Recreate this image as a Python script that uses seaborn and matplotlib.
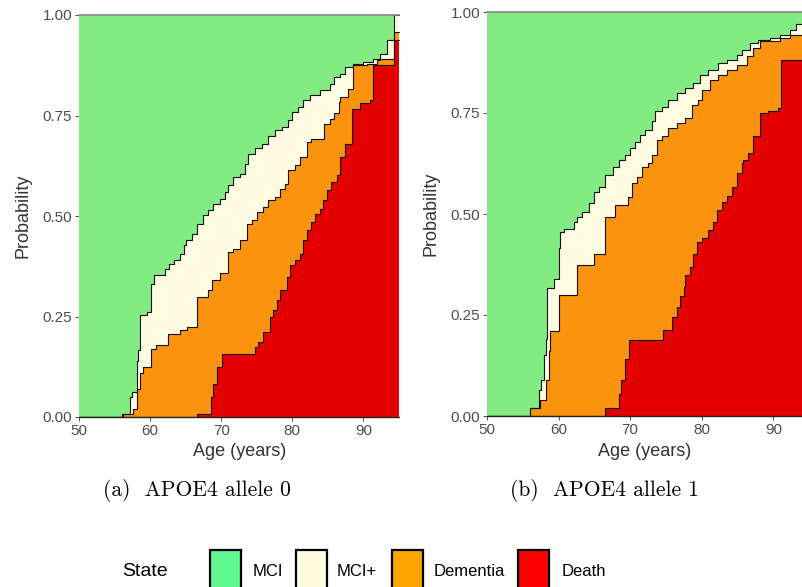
import numpy as np
import matplotlib
matplotlib.use("Agg")
import matplotlib.pyplot as plt
from matplotlib.patches import Rectangle
import seaborn as sns
import pandas as pd

sns.set_theme(style="white")
plt.rcParams['font.family'] = ['Liberation Sans', 'DejaVu Sans']

# state colours (plot fills / legend keys)
fill_colors = {'MCI': '#82EB82', 'MCI+': '#FFFDE1', 'Dementia': '#FB930F', 'Death': '#E40000'}
key_colors = {'MCI': '#5EF78F', 'MCI+': '#FFFDE0', 'Dementia': '#FFA500', 'Death': '#FF0000'}
states = ['MCI', 'MCI+', 'Dementia', 'Death']

# ---- APOE4 allele 0 : cumulative boundaries (step, post) ----
# top of Death
a0_death_age = [66.55, 68.5, 68.9, 69.4, 70.1, 74.75, 75.2, 75.9, 76.9, 77.3, 77.8, 78.3, 79.2, 79.7,
                80.4, 81.1, 81.55, 82.0, 82.7, 83.2, 83.9, 84.3, 84.85, 85.5, 86.25, 86.7, 87.4, 88.35,
                89.5, 90.9, 91.4, 94.35]
a0_death_p = [0.008, 0.05, 0.083, 0.124, 0.156, 0.174, 0.186, 0.211, 0.249, 0.265, 0.29, 0.315, 0.348, 0.377,
              0.39, 0.406, 0.44, 0.464, 0.485, 0.506, 0.518, 0.539, 0.564, 0.585, 0.601, 0.647, 0.68, 0.767,
              0.78, 0.788, 0.875, 0.938]
# top of Dementia
a0_dem_age = [56.15, 57.55, 58.1, 58.6, 59.05, 60.1, 60.9, 62.55, 64.2, 65.15, 66.6, 68.2, 68.65, 69.8,
              71.0, 71.7, 72.65, 73.6, 74.3, 75.0, 75.95, 76.6, 77.55, 78.3, 79.0, 79.4, 80.4, 81.1,
              82.0, 82.7, 84.4, 85.3, 85.8, 86.5, 86.7, 87.9, 88.6, 90.45, 91.9, 92.3, 94.35]
a0_dem_p = [0.008, 0.02, 0.07, 0.11, 0.124, 0.17, 0.178, 0.207, 0.216, 0.224, 0.299, 0.315, 0.34, 0.357,
            0.41, 0.419, 0.44, 0.481, 0.489, 0.51, 0.522, 0.539, 0.547, 0.568, 0.58, 0.614, 0.626, 0.647,
            0.684, 0.692, 0.73, 0.742, 0.755, 0.784, 0.796, 0.817, 0.875, 0.879, 0.887, 0.891, 0.958]
# top of MCI+
a0_mcip_age = [56.0, 57.17, 57.5, 58.1, 58.35, 58.6, 59.5, 60.1, 60.55, 62.1, 62.6, 63.3, 64.2, 64.7,
               65.1, 65.85, 66.55, 67.5, 68.2, 68.9, 69.8, 70.5, 71.0, 71.7, 72.65, 73.35, 73.8, 74.75,
               75.7, 76.6, 77.6, 78.5, 79.4, 79.9, 80.85, 81.55, 82.5, 83.9, 85.3, 85.8, 86.7, 87.4,
               88.6, 90.0, 91.4, 92.3, 93.3, 94.35]
a0_mcip_p = [0.008, 0.05, 0.062, 0.14, 0.166, 0.253, 0.26, 0.33, 0.352, 0.369, 0.381, 0.39, 0.406, 0.427,
             0.44, 0.456, 0.481, 0.502, 0.514, 0.531, 0.543, 0.56, 0.576, 0.597, 0.605, 0.63, 0.655, 0.668,
             0.68, 0.70, 0.713, 0.721, 0.738, 0.759, 0.771, 0.788, 0.80, 0.813, 0.829, 0.846, 0.854, 0.871,
             0.879, 0.883, 0.891, 0.904, 0.937, 1.0]

# ---- APOE4 allele 1 ----
a1_death_age = [66.5, 68.37, 68.7, 69.3, 69.9, 74.65, 75.8, 76.5, 77.0, 77.45, 77.7, 78.4, 78.8, 79.3,
                80.0, 80.9, 81.6, 82.1, 82.8, 83.5, 84.2, 84.9, 85.6, 85.8, 86.5, 87.2, 88.15, 89.3,
                90.7, 91.0]
a1_death_p = [0.02, 0.055, 0.09, 0.142, 0.188, 0.212, 0.245, 0.27, 0.297, 0.32, 0.35, 0.37, 0.40, 0.43,
              0.44, 0.46, 0.481, 0.51, 0.53, 0.545, 0.568, 0.601, 0.626, 0.634, 0.65, 0.692, 0.75, 0.754,
              0.762, 0.882]
a1_dem_age = [56.04, 57.44, 58.23, 58.6, 58.83, 60.0, 62.55, 64.9, 66.5, 67.9, 69.75, 70.2, 70.9, 71.6,
              72.55, 73.0, 73.7, 74.4, 75.35, 76.5, 77.7, 78.6, 79.5, 80.0, 81.15, 82.3, 83.5, 84.9,
              86.3, 87.2, 88.15, 90.9, 92.3]
a1_dem_p = [0.02, 0.039, 0.09, 0.16, 0.21, 0.30, 0.375, 0.40, 0.493, 0.522, 0.543, 0.576, 0.592, 0.617,
            0.626, 0.646, 0.683, 0.692, 0.712, 0.725, 0.737, 0.77, 0.783, 0.807, 0.832, 0.845, 0.857, 0.869,
            0.89, 0.911, 0.927, 0.936, 0.944]
a1_mcip_age = [56.04, 57.2, 57.53, 57.9, 58.23, 58.37, 59.4, 60.0, 60.2, 60.7, 62.1, 62.55, 63.25, 64.2,
               64.9, 65.6, 66.5, 67.65, 68.4, 69.3, 70.0, 70.7, 71.4, 72.1, 73.0, 73.5, 74.4, 75.35,
               76.5, 77.7, 78.8, 79.8, 80.9, 82.3, 83.5, 84.9, 85.6, 86.75, 87.9, 89.5, 90.9, 92.3, 93.2]
a1_mcip_p = [0.02, 0.064, 0.09, 0.15, 0.19, 0.318, 0.34, 0.415, 0.456, 0.464, 0.481, 0.493, 0.506, 0.526,
             0.555, 0.568, 0.597, 0.617, 0.634, 0.646, 0.663, 0.679, 0.696, 0.708, 0.729, 0.754, 0.766, 0.783,
             0.799, 0.812, 0.824, 0.845, 0.857, 0.874, 0.882, 0.894, 0.906, 0.923, 0.931, 0.936, 0.944, 0.956,
             0.971]

panels = [
    dict(death=(a0_death_age, a0_death_p), dem=(a0_dem_age, a0_dem_p), mcip=(a0_mcip_age, a0_mcip_p),
         end=95.0, xmax=95.15, rect=[79 / 802, 1 - 417 / 587, 321 / 802, 402 / 587],
         caption='(a)  APOE4 allele 0', cx=197),
    dict(death=(a1_death_age, a1_death_p), dem=(a1_dem_age, a1_dem_p), mcip=(a1_mcip_age, a1_mcip_p),
         end=94.2, xmax=94.0, rect=[487 / 802, 1 - 416 / 587, 315 / 802, 404 / 587],
         caption='(b)  APOE4 allele 1', cx=604),
]


def step_at(ages, probs, grid):
    idx = np.searchsorted(np.asarray(ages), grid, side='right') - 1
    vals = np.where(idx >= 0, np.asarray(probs)[np.clip(idx, 0, None)], 0.0)
    return vals


fig = plt.figure(figsize=(8.02, 5.87), dpi=100)

for pan in panels:
    ax = fig.add_axes(pan['rect'])
    grid = np.unique(np.concatenate([[50.0], pan['death'][0], pan['dem'][0], pan['mcip'][0], [pan['end']]]))
    b1 = step_at(*pan['death'], grid)
    b2 = step_at(*pan['dem'], grid)
    b3 = step_at(*pan['mcip'], grid)
    ones = np.ones_like(grid)
    zeros = np.zeros_like(grid)
    ax.fill_between(grid, b3, ones, step='post', color=fill_colors['MCI'], lw=0)
    ax.fill_between(grid, b2, b3, step='post', color=fill_colors['MCI+'], lw=0)
    ax.fill_between(grid, b1, b2, step='post', color=fill_colors['Dementia'], lw=0)
    ax.fill_between(grid, zeros, b1, step='post', color=fill_colors['Death'], lw=0)
    df = pd.DataFrame({'age': np.concatenate([grid] * 3),
                       'p': np.concatenate([b1, b2, b3]),
                       'edge': np.repeat(['death', 'dem', 'mcip'], len(grid))})
    sns.lineplot(data=df, x='age', y='p', units='edge', estimator=None, drawstyle='steps-post',
                 color='#111111', lw=0.8, ax=ax, legend=False)
    ax.plot([50, pan['end']], [1, 1], color='#888888', lw=1.2, clip_on=False)
    ax.plot([50, pan['end']], [0, 0], color='#222222', lw=1.0, clip_on=False)

    ax.set_xlim(50, pan['xmax'])
    ax.set_ylim(0, 1)
    ax.set_xticks([50, 60, 70, 80, 90])
    ax.set_yticks([0, 0.25, 0.5, 0.75, 1.0])
    ax.set_yticklabels(['0.00', '0.25', '0.50', '0.75', '1.00'])
    for s in ax.spines.values():
        s.set_visible(False)
    ax.tick_params(length=3, width=0.6, color='#333333', labelcolor='#4D4D4D', labelsize=11, pad=2,
                   bottom=True, left=True)
    ax.set_xlabel('Age (years)', fontsize=13, color='#333333', labelpad=4)
    ax.set_ylabel('Probability', fontsize=13, color='#333333', labelpad=8)

    fig.text(pan['cx'] / 802, 1 - 490 / 587, pan['caption'], family='cmr10', fontsize=15.5,
             ha='center', va='center', color='black')

# legend row
fig.text(145 / 802, 1 - 571 / 587, 'State', fontsize=14, ha='center', va='center', color='black')
key_x = [210, 296, 392, 518]
lab_x = [253, 337, 434, 562]
for st, kx, lx in zip(states, key_x, lab_x):
    fig.add_artist(Rectangle((kx / 802, 1 - 610 / 587), 31 / 802, 60 / 587, transform=fig.transFigure,
                             facecolor=key_colors[st], edgecolor='black', lw=1.6, clip_on=False))
    fig.text(lx / 802, 1 - 571 / 587, st, fontsize=12, ha='left', va='center', color='black')

fig.savefig('out.png', dpi=100)
